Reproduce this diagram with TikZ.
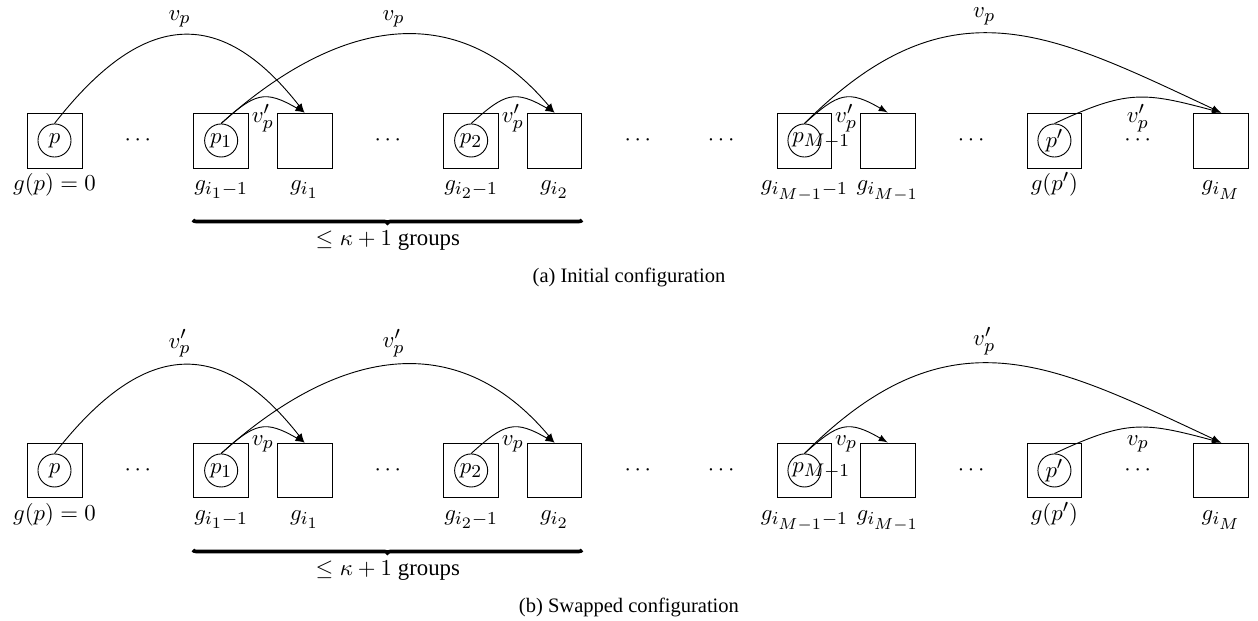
\documentclass[tikz,border=0pt]{standalone}
\usepackage[no-math]{fontspec}
\setmainfont{Liberation Serif}
\DeclareMathSizes{10}{10}{8}{7}
\usetikzlibrary{arrows}
\usetikzlibrary{decorations.pathreplacing}

\begin{document}
\begin{tikzpicture}[x=36.55pt, y=36.55pt, >=latex,
  grp/.style={draw, minimum size=24.1pt, inner sep=0pt},
  pt/.style={circle, draw, minimum size=14.5pt, inner sep=0pt},
  glab/.style={anchor=base, yshift=-9.6pt}]
\useasboundingbox (-0.654,-5.766) rectangle (14.443,1.686);
\foreach \yy/\ly/\la/\lb/\capt in {0/0.27/v_p/v'_p/(a) Initial configuration, -3.96/0.318/v'_p/v_p/(b) Swapped configuration}{
\begin{scope}[shift={(0,\yy)}]
% groups
\node[grp] (b0) at (0,0) {};
\node[pt] (c0) at (b0) {$p$};
\node[glab] (l0) at (b0.south) {$g(p)=0$};
\node[grp] (b1) at (2,0) {};
\node[pt] (c1) at (b1) {$p_1$};
\node[glab] (l1) at (b1.south) {$g_{i_1-1}$};
\node[grp] (b2) at (3,0) {};
\node[glab] (l2) at (b2.south) {$g_{i_1}$};
\node[grp] (b3) at (5,0) {};
\node[pt] (c3) at (b3) {$p_2$};
\node[glab] (l3) at (b3.south) {$g_{i_2-1}$};
\node[grp] (b4) at (6,0) {};
\node[glab] (l4) at (b4.south) {$g_{i_2}$};
\node[grp] (b5) at (9,0) {};
\node[pt] (c5) at (b5) {};
\node[anchor=west, inner sep=0pt] (t5) at ([xshift=-5.5pt]c5.center) {$p_{M-1}$};
\node[glab] (l5) at (b5.south) {$g_{i_{M-1}-1}$};
\node[grp] (b6) at (10,0) {};
\node[glab] (l6) at (b6.south) {$g_{i_{M-1}}$};
\node[grp] (b7) at (12,0) {};
\node[pt] (c7) at (b7) {$p'$};
\node[glab] (l7) at (b7.south) {$g(p')$};
\node[grp] (b8) at (14,0) {};
\node[glab] (l8) at (b8.south) {$g_{i_M}$};
\foreach \x in {1,4,7,8,11,13} {
 \node (d\x) at (\x,0) {$\cdots$};
}
% long moves
\draw[->] (c0.north) to[out=52, in=128, looseness=1.43] node[above] (a0) {$\la$} (b2.north);
\draw[->] (c1.north) to[out=42, in=130, looseness=1.18] node[above] (a1) {$\la$} (b4.north);
\draw[->] (c5.north) to[out=45, in=155, out looseness=1.26, in looseness=1.15] node[above, pos=0.45] (a5) {$\la$} (b8.north);
% short moves
\draw[->] (c1.north) to[out=42, in=150, looseness=1.4] (b2.north);
\draw[->] (c3.north) to[out=42, in=150, looseness=1.4] (b4.north);
\draw[->] (c5.north) to[out=42, in=150, looseness=1.4] (b6.north);
\draw[->] (c7.north) to[out=25, in=165, looseness=1.23] (b8.north);
\node (s1) at (2.5,\ly) {$\lb$};
\node (s3) at (5.5,\ly) {$\lb$};
\node (s5) at (9.5,\ly) {$\lb$};
\node (s7) at (13,\ly) {$\lb$};
% brace
\coordinate (br1) at (1.662,-0.954);
\coordinate (br2) at (6.33,-0.954);
\draw[decorate, decoration={brace, mirror, amplitude=1.3pt}, ultra thick] (br1) -- (br2);
\node (gt) at (4,-1.2) {$\leq\kappa+1$ groups};
\node[font=\small] (cap) at (6.894,-1.645) {\capt};
\end{scope}
}
\end{tikzpicture}
\end{document}
